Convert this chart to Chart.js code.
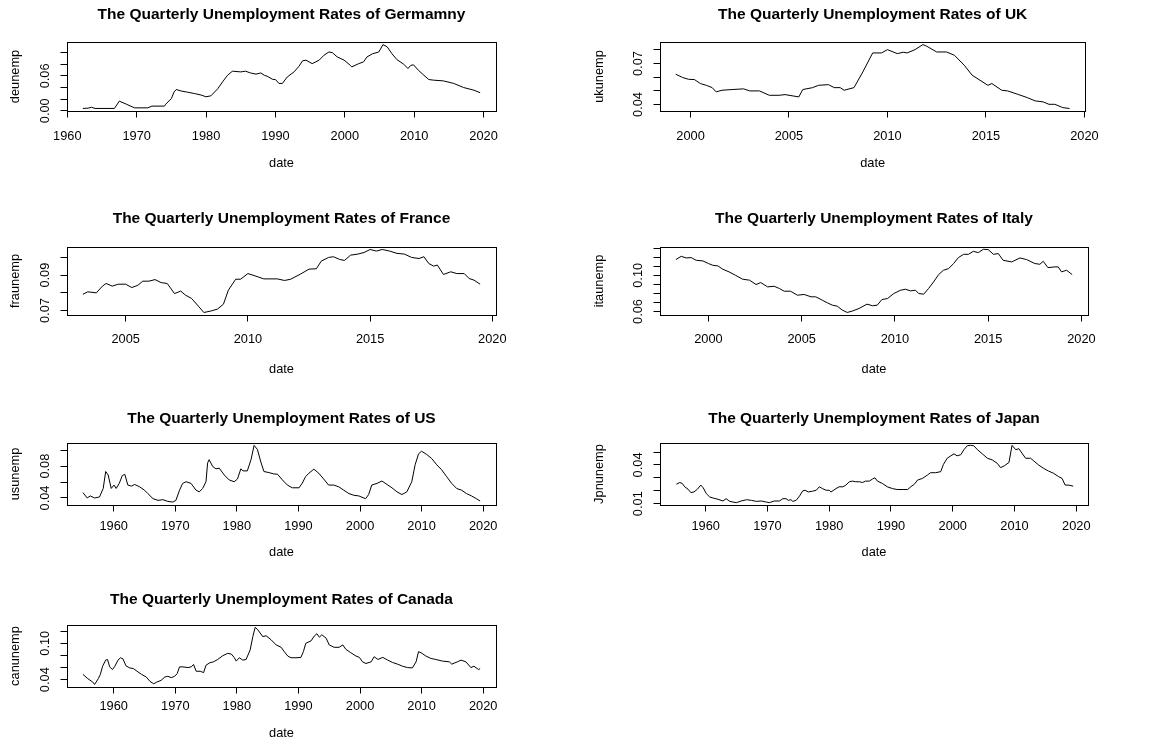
<!DOCTYPE html>
<html lang="en">
<head>
<meta charset="UTF-8">
<title>The Quarterly Unemployment Rates</title>
<script src="https://cdn.jsdelivr.net/npm/chart.js@4.4.4/dist/chart.umd.min.js"></script>
<style>
  body { margin: 0; background: #fff; }
  #page { position: relative; width: 1175px; height: 742px; overflow: hidden; background: #fff; }
  #page canvas { position: absolute; }
</style>
</head>
<body>
<div id="page"></div>

<script>
// x ticks
const decadeTicks = [1960, 1970, 1980, 1990, 2000, 2010, 2020];
const recentTicks = [2000, 2005, 2010, 2015, 2020];
const franceTicks = [2005, 2010, 2015, 2020];

// y ticks + which labels R kept
const deYTicks = [0, 0.02, 0.04, 0.06, 0.08, 0.10];
const deYLabels = ['0.00', '', '', '0.06', '', ''];
const ukYTicks = [0.04, 0.05, 0.06, 0.07, 0.08];
const ukYLabels = ['0.04', '', '', '0.07', ''];
const frYTicks = [0.07, 0.08, 0.09, 0.10];
const frYLabels = ['0.07', '', '0.09', ''];
const itYTicks = [0.06, 0.07, 0.08, 0.09, 0.10, 0.11, 0.12, 0.13];
const itYLabels = ['0.06', '', '', '', '0.10', '', '', ''];
const usYTicks = [0.04, 0.06, 0.08, 0.10];
const usYLabels = ['0.04', '', '0.08', ''];
const jpYTicks = [0.01, 0.02, 0.03, 0.04, 0.05];
const jpYLabels = ['0.01', '', '', '0.04', ''];
const caYTicks = [0.04, 0.06, 0.08, 0.10, 0.12];
const caYLabels = ['0.04', '', '', '0.10', ''];

// Germany
const deDates = [
  1962.25, 1963.0, 1963.5, 1964.0, 1966.8, 1967.5, 1968.5, 1969.7, 1971.6, 1972.2,
  1974.0, 1974.2, 1975.0, 1975.4, 1975.7, 1976.4, 1977.3, 1978.3, 1979.3, 1980.0,
  1980.7, 1981.7, 1982.4, 1983.1, 1983.8, 1985.0, 1985.7, 1986.4, 1987.2, 1987.9,
  1988.4, 1988.8, 1989.6, 1990.0, 1990.5, 1991.0, 1991.7, 1992.7, 1993.4, 1993.9,
  1994.4, 1995.3, 1996.3, 1997.0, 1997.7, 1998.2, 1998.9, 1999.9, 2000.8, 2001.0,
  2002.0, 2002.7, 2003.2, 2004.0, 2004.9, 2005.5, 2006.1, 2006.8, 2007.5, 2008.5,
  2009.1, 2009.5, 2009.9, 2010.6, 2011.4, 2012.1, 2012.8, 2014.2, 2015.7, 2017.1,
  2018.6, 2019.5
];
const deRates = [
  0.0040, 0.0045, 0.0060, 0.0040, 0.0040, 0.0166, 0.0114, 0.0050, 0.0050, 0.0080,
  0.0080, 0.0114, 0.0210, 0.0326, 0.0366, 0.0340, 0.0320, 0.0297, 0.0270, 0.0240,
  0.0257, 0.0380, 0.0500, 0.0610, 0.0680, 0.0668, 0.0680, 0.0650, 0.0630, 0.0650,
  0.0610, 0.0594, 0.0540, 0.0537, 0.0470, 0.0470, 0.0580, 0.0670, 0.0766, 0.0857,
  0.0870, 0.0810, 0.0870, 0.0954, 0.1010, 0.0999, 0.0926, 0.0870, 0.0780, 0.0754,
  0.0810, 0.0840, 0.0926, 0.0980, 0.1010, 0.1137, 0.1100, 0.0980, 0.0880, 0.0800,
  0.0726, 0.0780, 0.0790, 0.0697, 0.0610, 0.0537, 0.0526, 0.0514, 0.0470, 0.0400,
  0.0354, 0.0310
];

// UK
const ukDates = [
  1999.25, 1999.6, 1999.9, 2000.2, 2000.5, 2000.8, 2001.1, 2001.3, 2001.6, 2002.1,
  2002.7, 2003.0, 2003.5, 2004.0, 2004.5, 2004.8, 2005.5, 2005.7, 2006.2, 2006.5,
  2007.0, 2007.3, 2007.6, 2007.8, 2008.3, 2008.75, 2009.25, 2009.7, 2010.0, 2010.5,
  2010.8, 2011.0, 2011.4, 2011.8, 2012.0, 2012.5, 2013.0, 2013.4, 2013.9, 2014.3,
  2014.7, 2015.1, 2015.3, 2015.8, 2016.1, 2016.6, 2017.1, 2017.5, 2017.9, 2018.2,
  2018.5, 2018.9, 2019.25
];
const ukRates = [
  0.0622, 0.0598, 0.0585, 0.0583, 0.0554, 0.0541, 0.0524, 0.0493, 0.0505, 0.0510,
  0.0515, 0.0500, 0.0500, 0.0468, 0.0468, 0.0473, 0.0456, 0.0510, 0.0524, 0.0541,
  0.0546, 0.0524, 0.0524, 0.0505, 0.0524, 0.0639, 0.0778, 0.0778, 0.0802, 0.0773,
  0.0783, 0.0778, 0.0802, 0.0839, 0.0827, 0.0785, 0.0785, 0.0761, 0.0688, 0.0615,
  0.0578, 0.0541, 0.0554, 0.0505, 0.0500, 0.0476, 0.0451, 0.0427, 0.0420, 0.0402,
  0.0402, 0.0378, 0.0371
];

// France
const frDates = [
  2003.25, 2003.45, 2003.8, 2004.05, 2004.2, 2004.45, 2004.7, 2005.0, 2005.25, 2005.5,
  2005.7, 2005.95, 2006.2, 2006.45, 2006.7, 2007.0, 2007.25, 2007.45, 2007.7, 2008.0,
  2008.2, 2008.5, 2008.75, 2009.0, 2009.2, 2009.5, 2009.7, 2010.0, 2010.25, 2010.65,
  2011.2, 2011.5, 2011.75, 2012.15, 2012.5, 2012.8, 2013.0, 2013.3, 2013.5, 2013.75,
  2013.95, 2014.2, 2014.5, 2014.75, 2015.0, 2015.25, 2015.5, 2015.8, 2016.1, 2016.4,
  2016.7, 2017.0, 2017.2, 2017.4, 2017.6, 2017.75, 2018.0, 2018.3, 2018.55, 2018.85,
  2019.05, 2019.25, 2019.5
];
const frRates = [
  0.0792, 0.0806, 0.0800, 0.0838, 0.0853, 0.0838, 0.0849, 0.0849, 0.0830, 0.0843,
  0.0866, 0.0866, 0.0875, 0.0858, 0.0853, 0.0796, 0.0810, 0.0787, 0.0768, 0.0721,
  0.0689, 0.0698, 0.0708, 0.0736, 0.0815, 0.0877, 0.0877, 0.0909, 0.0898, 0.0879,
  0.0879, 0.0870, 0.0877, 0.0906, 0.0934, 0.0936, 0.0979, 0.1000, 0.1004, 0.0989,
  0.0983, 0.1013, 0.1019, 0.1028, 0.1045, 0.1036, 0.1045, 0.1036, 0.1023, 0.1019,
  0.1000, 0.0994, 0.1004, 0.0966, 0.0951, 0.0957, 0.0904, 0.0919, 0.0909, 0.0909,
  0.0881, 0.0872, 0.0849
];

// Italy
const itDates = [
  1998.25, 1998.54, 1998.8, 1999.07, 1999.34, 1999.7, 2000.0, 2000.23, 2000.5, 2000.77,
  2001.1, 2001.44, 2001.83, 2002.2, 2002.55, 2002.8, 2003.17, 2003.52, 2003.8, 2004.06,
  2004.4, 2004.77, 2005.13, 2005.5, 2005.75, 2006.1, 2006.37, 2006.64, 2006.9, 2007.18,
  2007.44, 2007.7, 2008.07, 2008.5, 2008.8, 2009.05, 2009.3, 2009.6, 2009.94, 2010.3,
  2010.56, 2010.83, 2011.1, 2011.27, 2011.54, 2011.8, 2012.07, 2012.34, 2012.6, 2012.87,
  2013.14, 2013.4, 2013.68, 2013.94, 2014.2, 2014.47, 2014.74, 2015.0, 2015.28, 2015.54,
  2015.8, 2016.26, 2016.7, 2017.06, 2017.5, 2017.77, 2017.95, 2018.2, 2018.57, 2018.75,
  2018.93, 2019.2, 2019.5
];
const itRates = [
  0.1174, 0.1210, 0.1192, 0.1196, 0.1166, 0.1159, 0.1130, 0.1111, 0.1104, 0.1067,
  0.1038, 0.1001, 0.0957, 0.0946, 0.0898, 0.0920, 0.0872, 0.0879, 0.0854, 0.0824,
  0.0824, 0.0780, 0.0788, 0.0762, 0.0762, 0.0725, 0.0696, 0.0670, 0.0659, 0.0615,
  0.0589, 0.0604, 0.0633, 0.0681, 0.0663, 0.0670, 0.0732, 0.0743, 0.0799, 0.0835,
  0.0846, 0.0828, 0.0835, 0.0799, 0.0791, 0.0854, 0.0927, 0.1008, 0.1056, 0.1074,
  0.1129, 0.1196, 0.1232, 0.1232, 0.1265, 0.1251, 0.1288, 0.1284, 0.1232, 0.1240,
  0.1166, 0.1148, 0.1192, 0.1174, 0.1130, 0.1122, 0.1155, 0.1085, 0.1093, 0.1093,
  0.1038, 0.1056, 0.1008
];

// US
const usDates = [
  1955.0, 1955.7, 1956.2, 1956.9, 1957.7, 1958.3, 1958.7, 1959.1, 1959.6, 1960.05,
  1960.4, 1960.9, 1961.4, 1961.8, 1962.3, 1962.9, 1963.4, 1964.2, 1965.0, 1965.55,
  1966.4, 1967.2, 1968.0, 1968.8, 1969.6, 1970.1, 1970.7, 1971.2, 1971.75, 1972.56,
  1973.37, 1973.9, 1974.45, 1974.99, 1975.25, 1975.5, 1976.07, 1976.6, 1977.14, 1977.95,
  1978.76, 1979.57, 1980.1, 1980.65, 1981.0, 1981.7, 1982.3, 1982.8, 1983.34, 1983.9,
  1984.4, 1985.2, 1986.0, 1986.6, 1987.4, 1988.2, 1989.0, 1990.1, 1990.6, 1991.16,
  1991.7, 1992.5, 1993.3, 1994.1, 1994.9, 1995.74, 1996.55, 1997.36, 1998.2, 1999.0,
  1999.8, 2000.9, 2001.4, 2001.9, 2002.75, 2003.56, 2004.37, 2005.18, 2006.0, 2006.8,
  2007.6, 2008.4, 2008.95, 2009.5, 2010.0, 2010.84, 2011.65, 2012.45, 2013.26, 2014.07,
  2014.88, 2015.7, 2016.5, 2017.3, 2018.1, 2018.9, 2019.5
];
const usRates = [
  0.0468, 0.0400, 0.0426, 0.0400, 0.0413, 0.0520, 0.0732, 0.0690, 0.0520, 0.0562,
  0.0520, 0.0583, 0.0681, 0.0698, 0.0562, 0.0549, 0.0570, 0.0540, 0.0498, 0.0455,
  0.0391, 0.0370, 0.0379, 0.0357, 0.0349, 0.0370, 0.0498, 0.0583, 0.0604, 0.0583,
  0.0498, 0.0477, 0.0520, 0.0604, 0.0838, 0.0881, 0.0796, 0.0766, 0.0774, 0.0689,
  0.0626, 0.0604, 0.0638, 0.0766, 0.0740, 0.0740, 0.0881, 0.1060, 0.1009, 0.0851,
  0.0732, 0.0719, 0.0702, 0.0698, 0.0626, 0.0562, 0.0528, 0.0528, 0.0583, 0.0668,
  0.0711, 0.0762, 0.0711, 0.0638, 0.0562, 0.0562, 0.0540, 0.0498, 0.0455, 0.0434,
  0.0426, 0.0391, 0.0443, 0.0562, 0.0583, 0.0613, 0.0570, 0.0528, 0.0477, 0.0443,
  0.0477, 0.0604, 0.0817, 0.0953, 0.0987, 0.0945, 0.0894, 0.0817, 0.0753, 0.0668,
  0.0583, 0.0519, 0.0498, 0.0455, 0.0426, 0.0391, 0.0362
];

// Japan
const jpDates = [
  1955.25, 1955.8, 1956.2, 1956.6, 1957.15, 1957.6, 1958.1, 1958.65, 1959.2, 1959.6,
  1960.1, 1960.65, 1961.2, 1962.0, 1962.8, 1963.3, 1963.9, 1964.95, 1965.75, 1966.6,
  1967.4, 1968.2, 1969.0, 1969.8, 1970.3, 1971.1, 1971.95, 1972.5, 1973.0, 1973.4,
  1973.8, 1974.1, 1974.64, 1975.2, 1975.7, 1976.1, 1976.6, 1977.3, 1977.9, 1978.4,
  1978.9, 1979.5, 1980.0, 1980.3, 1981.1, 1981.6, 1982.2, 1982.7, 1983.25, 1983.8,
  1984.3, 1984.9, 1985.4, 1985.9, 1986.5, 1987.0, 1987.4, 1987.8, 1988.6, 1989.4,
  1990.25, 1991.0, 1992.1, 1992.7, 1993.2, 1993.75, 1994.3, 1995.1, 1995.9, 1996.4,
  1997.2, 1998.05, 1998.5, 1999.1, 1999.7, 2000.2, 2000.7, 2001.3, 2001.8, 2002.35,
  2002.9, 2003.4, 2004.0, 2004.8, 2005.6, 2006.4, 2007.2, 2007.74, 2008.4, 2009.1,
  2009.6, 2010.2, 2010.7, 2011.2, 2011.8, 2012.6, 2013.1, 2013.9, 2014.7, 2015.5,
  2016.35, 2017.15, 2017.7, 2018.2, 2018.8, 2019.5
];
const jpRates = [
  0.0251, 0.0264, 0.0257, 0.0231, 0.0212, 0.0186, 0.0191, 0.0212, 0.0244, 0.0223,
  0.0178, 0.0152, 0.0144, 0.0134, 0.0121, 0.0139, 0.0118, 0.0108, 0.0121, 0.0131,
  0.0126, 0.0118, 0.0121, 0.0113, 0.0108, 0.0121, 0.0121, 0.0139, 0.0139, 0.0126,
  0.0131, 0.0118, 0.0126, 0.0160, 0.0199, 0.0204, 0.0191, 0.0197, 0.0204, 0.0231,
  0.0217, 0.0204, 0.0204, 0.0191, 0.0217, 0.0231, 0.0231, 0.0244, 0.0270, 0.0275,
  0.0270, 0.0270, 0.0264, 0.0275, 0.0275, 0.0291, 0.0301, 0.0275, 0.0257, 0.0231,
  0.0217, 0.0210, 0.0210, 0.0210, 0.0231, 0.0249, 0.0283, 0.0296, 0.0322, 0.0340,
  0.0340, 0.0348, 0.0405, 0.0452, 0.0471, 0.0486, 0.0471, 0.0479, 0.0518, 0.0549,
  0.0552, 0.0549, 0.0518, 0.0486, 0.0452, 0.0439, 0.0413, 0.0379, 0.0395, 0.0419,
  0.0552, 0.0518, 0.0526, 0.0492, 0.0452, 0.0452, 0.0432, 0.0400, 0.0374, 0.0353,
  0.0335, 0.0309, 0.0296, 0.0244, 0.0244, 0.0236
];

// Canada
const caDates = [
  1955.0, 1955.8, 1956.6, 1956.9, 1957.5, 1957.84, 1958.2, 1958.7, 1959.0, 1959.35,
  1959.8, 1960.2, 1960.7, 1961.1, 1961.5, 1962.0, 1962.6, 1963.2, 1963.8, 1964.5,
  1965.3, 1965.9, 1966.5, 1967.0, 1967.7, 1968.3, 1968.8, 1969.35, 1969.9, 1970.3,
  1970.7, 1971.25, 1972.05, 1972.6, 1972.97, 1973.4, 1974.05, 1974.6, 1975.0, 1975.6,
  1976.2, 1976.9, 1977.7, 1978.5, 1979.1, 1979.6, 1979.9, 1980.4, 1980.97, 1981.5,
  1982.16, 1982.6, 1982.97, 1983.4, 1984.2, 1984.75, 1985.57, 1986.38, 1987.2, 1987.7,
  1988.27, 1988.8, 1989.6, 1990.4, 1990.8, 1991.2, 1992.05, 1992.6, 1993.0, 1993.4,
  1993.8, 1994.5, 1995.0, 1995.8, 1996.6, 1997.2, 1997.7, 1998.5, 1999.35, 1999.9,
  2000.4, 2000.97, 2001.8, 2002.3, 2002.9, 2003.7, 2004.5, 2005.3, 2006.1, 2006.9,
  2007.7, 2008.5, 2009.1, 2009.5, 2009.9, 2010.7, 2011.5, 2012.3, 2013.4, 2014.5,
  2014.9, 2015.8, 2016.4, 2017.2, 2018.0, 2018.5, 2019.25, 2019.5
];
const caRates = [
  0.0489, 0.0417, 0.0361, 0.0322, 0.0417, 0.0489, 0.0622, 0.0722, 0.0733, 0.0611,
  0.0567, 0.0622, 0.0722, 0.0761, 0.0744, 0.0628, 0.0594, 0.0583, 0.0539, 0.0489,
  0.0444, 0.0372, 0.0333, 0.0361, 0.0389, 0.0444, 0.0456, 0.0433, 0.0456, 0.0500,
  0.0611, 0.0611, 0.0600, 0.0611, 0.0650, 0.0539, 0.0539, 0.0517, 0.0639, 0.0678,
  0.0694, 0.0733, 0.0794, 0.0833, 0.0822, 0.0761, 0.0706, 0.0761, 0.0722, 0.0733,
  0.0889, 0.1110, 0.1261, 0.1222, 0.1110, 0.1122, 0.1056, 0.0972, 0.0933, 0.0861,
  0.0789, 0.0761, 0.0761, 0.0767, 0.0861, 0.1000, 0.1039, 0.1122, 0.1156, 0.1100,
  0.1139, 0.1083, 0.0972, 0.0933, 0.0933, 0.0972, 0.0900, 0.0844, 0.0789, 0.0767,
  0.0694, 0.0667, 0.0694, 0.0778, 0.0733, 0.0767, 0.0722, 0.0683, 0.0656, 0.0622,
  0.0600, 0.0594, 0.0694, 0.0861, 0.0844, 0.0789, 0.0750, 0.0733, 0.0706, 0.0694,
  0.0656, 0.0694, 0.0722, 0.0694, 0.0600, 0.0622, 0.0567, 0.0583
];

// page geometry (mfrow 4x2 look)
const COLS = [
  { boxLeft: 67, boxRight: 496, yTitleX: 15.5 },
  { boxLeft: 660, boxRight: 1088, yTitleX: 599 }
];
const ROWS = [
  { titleY: 15, boxTop: 42, boxBottom: 111, tickY: 136.5, dateY: 163.3 },
  { titleY: 218.3, boxTop: 247, boxBottom: 315, tickY: 339.5, dateY: 369.3 },
  { titleY: 418.3, boxTop: 443, boxBottom: 505, tickY: 526.7, dateY: 552.3 },
  { titleY: 600, boxTop: 625, boxBottom: 687, tickY: 706.7, dateY: 733.3 }
];

const panels = [
  { title: 'The Quarterly Unemployment Rates of Germamny', ylab: 'deunemp', dates: deDates, rates: deRates,
    xRange: [1959.96, 2021.79], xTicks: decadeTicks, yRange: [-0.0004, 0.1182], yTicks: deYTicks, yLabels: deYLabels, col: 0, row: 0 },
  { title: 'The Quarterly Unemployment Rates of UK', ylab: 'ukunemp', dates: ukDates, rates: ukRates,
    xRange: [1998.45, 2020.05], xTicks: recentTicks, yRange: [0.0353, 0.0858], yTicks: ukYTicks, yLabels: ukYLabels, col: 1, row: 0 },
  { title: 'The Quarterly Unemployment Rates of France', ylab: 'fraunemp', dates: frDates, rates: frRates,
    xRange: [2002.6, 2020.15], xTicks: franceTicks, yRange: [0.0675, 0.1059], yTicks: frYTicks, yLabels: frYLabels, col: 0, row: 1 },
  { title: 'The Quarterly Unemployment Rates of Italy', ylab: 'itaunemp', dates: itDates, rates: itRates,
    xRange: [1997.4, 2020.35], xTicks: recentTicks, yRange: [0.0561, 0.1313], yTicks: itYTicks, yLabels: itYLabels, col: 1, row: 1 },
  { title: 'The Quarterly Unemployment Rates of US', ylab: 'usunemp', dates: usDates, rates: usRates,
    xRange: [1952.42, 2022.08], xTicks: decadeTicks, yRange: [0.0312, 0.109], yTicks: usYTicks, yLabels: usYLabels, col: 0, row: 2 },
  { title: 'The Quarterly Unemployment Rates of Japan', ylab: 'Jpnunemp', dates: jpDates, rates: jpRates,
    xRange: [1952.6, 2021.9], xTicks: decadeTicks, yRange: [0.009, 0.057], yTicks: jpYTicks, yLabels: jpYLabels, col: 1, row: 2 },
  { title: 'The Quarterly Unemployment Rates of Canada', ylab: 'canunemp', dates: caDates, rates: caRates,
    xRange: [1952.42, 2022.08], xTicks: decadeTicks, yRange: [0.028, 0.130], yTicks: caYTicks, yLabels: caYLabels, col: 0, row: 3 }
];

const FONT = "'Liberation Sans', Arial, Helvetica, sans-serif";
const AXIS_PX = 12.8;
const MAIN_PX = 15.5;
const TICK = 6.5;

Chart.defaults.font.family = FONT;
Chart.defaults.color = '#000';

// R draws a full box round the plot region
const boxPlugin = {
  id: 'rbox',
  afterDatasetsDraw(chart) {
    const { ctx, chartArea: a } = chart;
    ctx.save();
    ctx.strokeStyle = '#000';
    ctx.lineWidth = 1;
    ctx.strokeRect(Math.round(a.left) + 0.5, Math.round(a.top) + 0.5,
      Math.round(a.right - a.left), Math.round(a.bottom - a.top));
    ctx.restore();
  }
};

const page = document.getElementById('page');

function makePanel(p) {
  const col = COLS[p.col];
  const row = ROWS[p.row];
  const axisLh = AXIS_PX * 1.2;
  const mainLh = MAIN_PX * 1.2;

  const left = Math.floor(col.yTitleX - axisLh / 2);
  const top = Math.floor(row.titleY - mainLh / 2);
  const right = col.boxRight + 22;
  const bottom = Math.ceil(row.dateY + axisLh / 2);

  const canvas = document.createElement('canvas');
  canvas.width = right - left;
  canvas.height = bottom - top;
  canvas.style.left = left + 'px';
  canvas.style.top = top + 'px';
  page.appendChild(canvas);

  const yWidth = col.boxLeft - left;
  const xHeight = bottom - row.boxBottom;
  const axisFont = { family: FONT, size: AXIS_PX };

  new Chart(canvas, {
    type: 'line',
    data: {
      datasets: [{
        data: p.dates.map((d, i) => ({ x: d, y: p.rates[i] })),
        borderColor: '#000',
        borderWidth: 1,
        pointRadius: 0,
        tension: 0,
        fill: false
      }]
    },
    options: {
      responsive: false,
      animation: false,
      events: [],
      layout: { padding: { left: 0, top: 0, right: right - col.boxRight, bottom: 0 } },
      plugins: {
        legend: { display: false },
        tooltip: { enabled: false },
        title: {
          display: true,
          text: p.title,
          fullSize: false,
          color: '#000',
          font: { family: FONT, size: MAIN_PX, weight: 'bold' },
          padding: { top: row.titleY - mainLh / 2 - top, bottom: row.boxTop - row.titleY - mainLh / 2 }
        }
      },
      scales: {
        x: {
          type: 'linear',
          min: p.xRange[0],
          max: p.xRange[1],
          afterBuildTicks: s => { s.ticks = p.xTicks.map(v => ({ value: v })); },
          afterFit: s => { s.height = xHeight; },
          grid: { drawOnChartArea: false, drawTicks: true, tickLength: TICK, color: '#000', lineWidth: 1 },
          border: { display: false },
          ticks: {
            autoSkip: false, maxRotation: 0, minRotation: 0,
            padding: row.tickY - row.boxBottom - TICK - axisLh / 2,
            color: '#000', font: axisFont,
            callback: v => String(v)
          },
          title: {
            display: true, text: 'date', color: '#000', font: axisFont,
            padding: { top: 0, bottom: bottom - row.dateY - axisLh / 2 }
          }
        },
        y: {
          min: p.yRange[0],
          max: p.yRange[1],
          afterBuildTicks: s => { s.ticks = p.yTicks.map(v => ({ value: v })); },
          afterFit: s => { s.width = yWidth; },
          grid: { drawOnChartArea: false, drawTicks: true, tickLength: TICK, color: '#000', lineWidth: 1 },
          border: { display: false },
          ticks: {
            autoSkip: false, minRotation: 90, maxRotation: 90, crossAlign: 'center',
            padding: 3, color: '#000', font: axisFont,
            callback: (v, i) => p.yLabels[i]
          },
          title: {
            display: true, text: p.ylab, color: '#000', font: axisFont,
            padding: { top: col.yTitleX - axisLh / 2 - left, bottom: 0 }
          }
        }
      }
    },
    plugins: [boxPlugin]
  });
}

panels.forEach(makePanel);
</script>
</body>
</html>
